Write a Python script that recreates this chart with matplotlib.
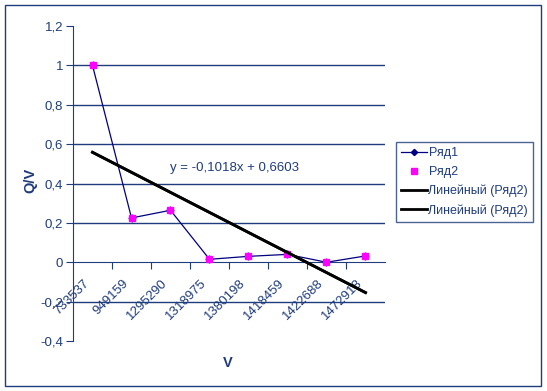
import numpy as np
import matplotlib
matplotlib.use("Agg")
import matplotlib.pyplot as plt
import matplotlib.transforms as mtransforms
from matplotlib.patches import Rectangle

plt.rcParams['font.family'] = ['Liberation Sans', 'DejaVu Sans']

# data
v_labels = ['733537', '949159', '1295290', '1318975', '1380198', '1418459', '1422688', '1472918']
qv_row1 = [1.0, 0.225, 0.264, 0.015, 0.03, 0.04, 0.0, 0.032]
qv_row2 = [1.0, 0.225, 0.264, 0.015, 0.03, 0.04, 0.0, 0.032]
trend_slope = -0.1018
trend_icpt = 0.6603
y_ticks = [-0.4, -0.2, 0, 0.2, 0.4, 0.6, 0.8, 1.0, 1.2]
grid_vals = [-0.2, 0.2, 0.4, 0.6, 0.8, 1.0]

navy = '#1F3C7C'
fs = 9.5
W, H = 547, 391

fig = plt.figure(figsize=(W / 100, H / 100), dpi=100)
fig.patch.set_facecolor('white')
ax = fig.add_axes([73 / W, 1 - 341 / H, 312 / W, 315 / H])

x = np.arange(1, len(v_labels) + 1)

for g in grid_vals:
    ax.axhline(g, color=navy, lw=1, zorder=1)

ax.plot(x, qv_row1, color='#000080', lw=0.9, marker='D', ms=3.5,
        mfc='#000080', mec='#000080', zorder=3, label='Ряд1')
ax.plot(x, qv_row2, ls='none', marker='s', ms=5, mfc='#FF00FF',
        mec='#FF00FF', zorder=4, label='Ряд2')

# linear trend (drawn twice, like the source)
tx = np.array([x[0], x[-1]])
ty = trend_slope * tx + trend_icpt
ax.plot(tx, ty, color='black', lw=2, zorder=5, label='Линейный (Ряд2)')
ax.plot(tx, ty, color='black', lw=2, zorder=5, label='Линейный (Ряд2)')

ax.text(4.65, 0.48, 'y = -0,1018x + 0,6603', color=navy, fontsize=fs,
        ha='center', va='center', zorder=6)

ax.set_xlim(0.5, len(v_labels) + 0.5)
ax.set_ylim(-0.4, 1.2)

ax.spines['top'].set_visible(False)
ax.spines['right'].set_visible(False)
ax.spines['bottom'].set_position(('data', 0))
ax.spines['bottom'].set_color(navy)
ax.spines['left'].set_color(navy)
ax.spines['bottom'].set_zorder(2)

ax.set_yticks(y_ticks)
ax.set_yticklabels([('%g' % t).replace('.', ',') for t in y_ticks])
ax.tick_params(axis='y', direction='out', length=5, color=navy,
               labelcolor=navy, labelsize=fs, pad=2)

ax.set_xticks(np.arange(1.5, len(v_labels), 1.0))
ax.set_xticklabels([])
ax.tick_params(axis='x', direction='out', length=5, color=navy)

off = mtransforms.ScaledTranslation(-5 / 100, -19 / 100, fig.dpi_scale_trans)
for xi, lab in zip(x, v_labels):
    ax.text(xi, 0, lab, transform=ax.transData + off, rotation=45,
            rotation_mode='anchor', ha='right', va='center',
            color=navy, fontsize=fs)

fig.text(30 / W, 1 - 180 / H, 'Q/V', rotation=90, ha='center', va='center',
         color=navy, fontsize=10.5, fontweight='bold')
fig.text(228 / W, 1 - 363 / H, 'V', ha='center', va='center',
         color=navy, fontsize=10.5, fontweight='bold')

leg = fig.legend(loc='upper left', bbox_to_anchor=(396 / W, 1 - 142 / H),
                 frameon=True, fancybox=False, fontsize=9,
                 handlelength=2.1, handletextpad=0.1, borderpad=0.4,
                 labelspacing=0.55, borderaxespad=0, markerscale=0.9)
leg.get_frame().set_edgecolor(navy)
leg.get_frame().set_linewidth(1)
for t in leg.get_texts():
    t.set_color(navy)

fig.patches.append(Rectangle((5 / W, 1 - 386 / H), 536 / W, 381 / H,
                             transform=fig.transFigure, fill=False,
                             edgecolor=navy, lw=1))

fig.savefig('out.png', dpi=100)
